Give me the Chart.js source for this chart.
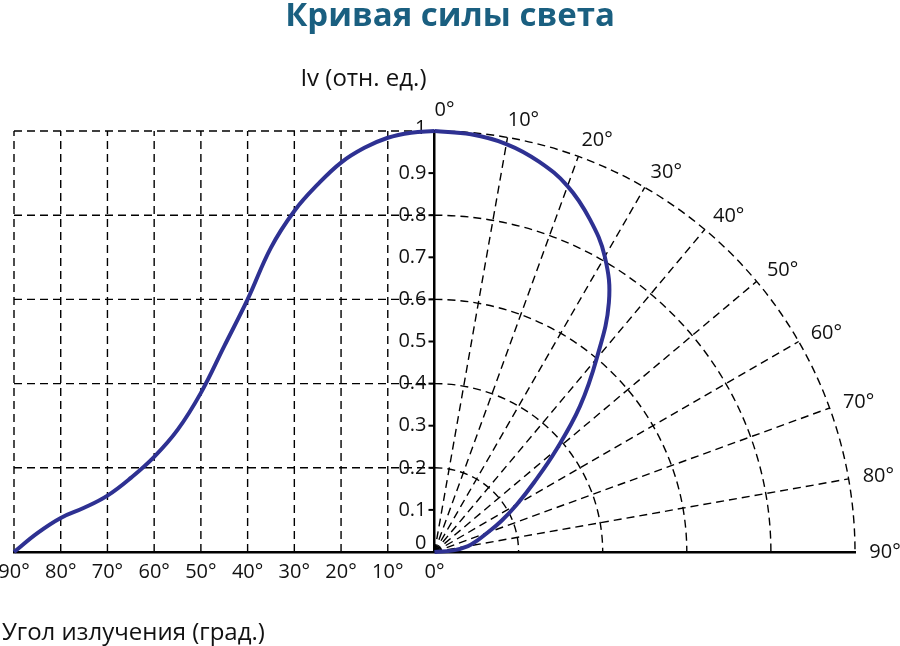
<!DOCTYPE html>
<html>
<head>
<meta charset="utf-8">
<script src="https://cdn.jsdelivr.net/npm/chart.js@4"></script>
<style>
  body { margin: 0; background: #fff; }
  #wrap { width: 900px; height: 646px; }
</style>
</head>
<body>
<div id="wrap"><canvas id="lightChart"></canvas></div>
<script>
// angle from the axis, degrees, and relative intensity Iv
const angles = [0, 5, 10, 15, 20, 25, 30, 35, 40, 45, 50, 55, 60, 65, 70, 75, 80, 85, 90];
const intensity = [1.0, 0.996, 0.984, 0.96, 0.925, 0.873, 0.81, 0.723, 0.6, 0.489, 0.378, 0.29, 0.226, 0.176, 0.134, 0.105, 0.081, 0.045, 0.0];

const xTickAngles = [90, 80, 70, 60, 50, 40, 30, 20, 10, 0];
const yTicks = [0, 0.1, 0.2, 0.3, 0.4, 0.5, 0.6, 0.7, 0.8, 0.9, 1];
const gridLevels = [0.2, 0.4, 0.6, 0.8, 1.0];
const polarAngles = [10, 20, 30, 40, 50, 60, 70, 80];
const polarLabels = [0, 10, 20, 30, 40, 50, 60, 70, 80, 90];

const curveColor = '#2e3192';
const fontFamily = '"Open Sans", sans-serif';
const rad = d => d * Math.PI / 180;

// left half: cartesian, x = -angle/90 ; right half: polar plot of same data
const leftPoints = angles.map((a, i) => ({ x: -a / 90, y: intensity[i] }));
const polarPoints = angles.map((a, i) => ({
  x: intensity[i] * Math.sin(rad(a)),
  y: intensity[i] * Math.cos(rad(a))
}));

const gridPlugin = {
  id: 'lightGrid',
  beforeDatasetsDraw(chart) {
    const { ctx, scales: { x, y } } = chart;
    const cx = x.getPixelForValue(0), cy = y.getPixelForValue(0);
    ctx.save();
    ctx.strokeStyle = '#000';
    ctx.lineWidth = 1.4;
    ctx.setLineDash([8, 5]);

    // cartesian part
    xTickAngles.forEach(a => {
      if (a === 0) return;
      const px = x.getPixelForValue(-a / 90);
      ctx.beginPath();
      ctx.moveTo(px, cy);
      ctx.lineTo(px, y.getPixelForValue(1));
      ctx.stroke();
    });
    gridLevels.forEach(v => {
      const py = y.getPixelForValue(v);
      ctx.beginPath();
      ctx.moveTo(x.getPixelForValue(-1), py);
      ctx.lineTo(cx, py);
      ctx.stroke();
    });

    // polar part
    gridLevels.forEach(r => {
      const rx = x.getPixelForValue(r) - cx;
      const ry = cy - y.getPixelForValue(r);
      ctx.beginPath();
      ctx.ellipse(cx, cy, rx, ry, 0, -Math.PI / 2, 0);
      ctx.stroke();
    });
    polarAngles.forEach(a => {
      ctx.beginPath();
      ctx.moveTo(cx, cy);
      ctx.lineTo(x.getPixelForValue(Math.sin(rad(a))), y.getPixelForValue(Math.cos(rad(a))));
      ctx.stroke();
    });
    ctx.setLineDash([]);

    // y ticks on the left of the vertical axis
    ctx.lineWidth = 2;
    ctx.fillStyle = '#111';
    ctx.font = '20px ' + fontFamily;
    ctx.textAlign = 'right';
    ctx.textBaseline = 'middle';
    yTicks.forEach(v => {
      const py = y.getPixelForValue(v);
      ctx.beginPath();
      ctx.moveTo(cx - 6, py);
      ctx.lineTo(cx, py);
      ctx.stroke();
      const dy = v === 0 ? -9 : (v === 1 ? -3 : 0);
      ctx.fillText(String(v), cx - 8, py + dy);
    });

    // polar angle labels
    ctx.textAlign = 'center';
    polarLabels.forEach(a => {
      const s = Math.sin(rad(a)), c = Math.cos(rad(a));
      const ex = x.getPixelForValue(s), ey = y.getPixelForValue(c);
      const lx = a === 0 ? ex + 10 : ex + 17 * s + 13;
      const ly = a === 0 ? ey - 21 : ey - 17 * c;
      ctx.fillText(a + '°', lx, ly);
    });

    // axis captions
    const area = chart.chartArea;
    ctx.font = '24px ' + fontFamily;
    ctx.textAlign = 'right';
    ctx.fillText('Iv (отн. ед.)', cx - 8, area.top - 52);
    ctx.textAlign = 'left';
    ctx.fillText('Угол излучения (град.)', 2, area.bottom + 81);
    ctx.restore();
  }
};

new Chart(document.getElementById('lightChart'), {
  type: 'scatter',
  data: {
    datasets: [{
      label: 'Iv',
      data: leftPoints,
      showLine: true,
      borderColor: curveColor,
      borderWidth: 4,
      pointRadius: 0,
      tension: 0.4,
      clip: false
    }, {
      label: 'Iv polar',
      data: polarPoints,
      showLine: true,
      borderColor: curveColor,
      borderWidth: 4,
      pointRadius: 0,
      tension: 0.4,
      clip: false
    }]
  },
  options: {
    responsive: true,
    maintainAspectRatio: false,
    animation: false,
    layout: { padding: { left: 0, right: 0, top: 0, bottom: 54 } },
    plugins: {
      legend: { display: false },
      tooltip: { enabled: false },
      title: {
        display: true,
        text: 'Кривая силы света',
        color: '#1a5f80',
        font: { family: fontFamily, size: 33, weight: 'bold', lineHeight: 1.0 },
        padding: { top: 0, bottom: 98 }
      }
    },
    scales: {
      x: {
        type: 'linear',
        min: -1,
        max: 1,
        afterBuildTicks: scale => {
          scale.ticks = xTickAngles.map(a => ({ value: -a / 90 }));
        },
        afterFit: scale => { scale.paddingLeft = 14; scale.paddingRight = 45; },
        grid: { display: false, drawTicks: false },
        border: { display: true, color: '#000', width: 2.5 },
        ticks: {
          autoSkip: false,
          maxRotation: 0,
          padding: 8,
          color: '#111',
          font: { family: fontFamily, size: 20 },
          callback: v => Math.abs(Math.round(v * 90)) + '°'
        }
      },
      y: {
        type: 'linear',
        min: 0,
        max: 1,
        position: { x: 0 },
        grid: { display: false },
        border: { display: true, color: '#000', width: 2.5 },
        ticks: { display: false }
      }
    }
  },
  plugins: [gridPlugin]
});
</script>
</body>
</html>
